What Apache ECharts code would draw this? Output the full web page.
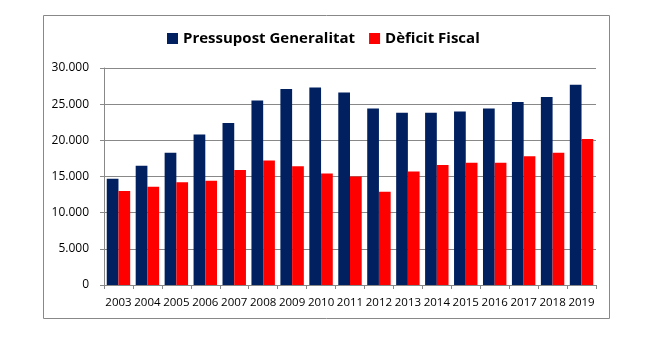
<!DOCTYPE html>
<html>
<head>
<meta charset="utf-8">
<script src="https://cdn.jsdelivr.net/npm/echarts@6/dist/echarts.min.js"></script>
<style>
  html, body { margin: 0; padding: 0; background: #fff; }
  #chart { width: 657px; height: 351px; }
</style>
</head>
<body>
<div id="chart"></div>
<script>
var years = ['2003','2004','2005','2006','2007','2008','2009','2010','2011','2012','2013','2014','2015','2016','2017','2018','2019'];
var pressupost = [14700,16500,18300,20800,22400,25500,27100,27300,26600,24400,23800,23800,24000,24400,25300,26000,27700];
var deficit = [13000,13600,14200,14400,15900,17200,16400,15400,15000,12900,15700,16600,16900,16900,17800,18300,20200];
var seriesNames = ['Pressupost Generalitat', 'Dèficit Fiscal'];

var chart = echarts.init(document.getElementById('chart'));

function fmtThousands(v) {
    return String(v).replace(/\B(?=(\d{3})+(?!\d))/g, '.');
}

chart.setOption({
    animation: false,
    color: ['#002060', '#ff0000'],
    graphic: [{
        type: 'rect',
        shape: { x: 43.5, y: 15.5, width: 566, height: 303 },
        style: { fill: 'none', stroke: '#888', lineWidth: 1 },
        silent: true
    }],
    legend: {
        top: 26,
        left: 162,
        itemWidth: 11,
        itemHeight: 11,
        itemGap: 14,
        icon: 'rect',
        data: seriesNames,
        textStyle: { fontFamily: 'Open Sans', fontWeight: 'bold', fontSize: 15, color: '#000' }
    },
    grid: { left: 104, right: 61, top: 68, bottom: 66, containLabel: false },
    xAxis: {
        type: 'category',
        data: years,
        axisLine: { lineStyle: { color: '#888' } },
        axisTick: { show: true, length: 4, lineStyle: { color: '#888' } },
        axisLabel: { color: '#000', fontFamily: 'Open Sans', fontSize: 11.5, margin: 12, interval: 0 }
    },
    yAxis: {
        type: 'value',
        min: 0,
        max: 30000,
        interval: 5000,
        axisLine: { show: true, lineStyle: { color: '#888' } },
        axisTick: { show: true, length: 4, lineStyle: { color: '#888' } },
        splitLine: { lineStyle: { color: '#888' } },
        axisLabel: { color: '#000', fontFamily: 'Open Sans', fontSize: 12, margin: 15, formatter: fmtThousands }
    },
    series: [{
        name: seriesNames[0],
        type: 'bar',
        data: pressupost,
        barGap: '0%',
        barCategoryGap: '19%'
    }, {
        name: seriesNames[1],
        type: 'bar',
        data: deficit,
        barGap: '0%',
        barCategoryGap: '19%'
    }]
});
</script>
</body>
</html>
